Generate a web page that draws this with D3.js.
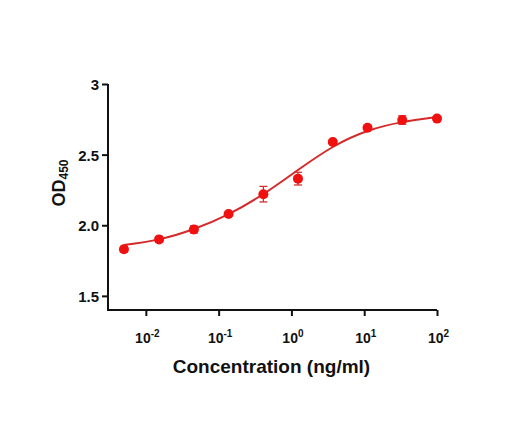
<!DOCTYPE html>
<html>
<head>
<meta charset="utf-8">
<script src="https://cdn.jsdelivr.net/npm/d3@7"></script>
<style>
  body { margin: 0; background: #fff; }
  svg text { font-family: "Liberation Sans", Arial, sans-serif; font-weight: bold; fill: #111; }
</style>
</head>
<body>
<svg id="chart" width="519" height="423"></svg>
<script>
// measured points (3-fold dilution series)
const conc = [0.005, 0.0152, 0.0457, 0.137, 0.412, 1.23, 3.70, 11.1, 33.3, 100];
const od = [1.83, 1.90, 1.97, 2.08, 2.22, 2.33, 2.59, 2.69, 2.745, 2.755];
const odErr = [0.02, 0.02, 0.025, 0.01, 0.055, 0.045, 0.01, 0.01, 0.03, 0.01];

// fitted curve
const fitConc = [0.005, 0.0152, 0.0457, 0.137, 0.412, 1.23, 3.70, 11.1, 33.3, 100];
const fitOD = [1.86, 1.90, 1.973, 2.079, 2.221, 2.391, 2.554, 2.667, 2.730, 2.766];

const xTicks = [-2, -1, 0, 1, 2];
const yTicks = [1.5, 2.0, 2.5, 3];
const yTickLabels = ['1.5', '2.0', '2.5', '3'];

const svg = d3.select('#chart');
const margin = { top: 84, bottom: 113, left: 108, right: 82 };
const width = 519 - margin.left - margin.right;
const height = 423 - margin.top - margin.bottom;

const x = d3.scaleLog()
  .domain([Math.pow(10, -2.52), 100])
  .range([0, width]);

const y = d3.scaleLinear()
  .domain([1.4, 3])
  .range([height, 0]);

const g = svg.append('g')
  .attr('transform', `translate(${margin.left}, ${margin.top})`);

// axes
const xAxis = d3.axisBottom(x)
  .tickValues(xTicks.map(d => Math.pow(10, d)))
  .tickSize(6)
  .tickFormat('');
const xg = g.append('g')
  .attr('transform', `translate(0, ${height})`)
  .call(xAxis);

const yAxis = d3.axisLeft(y)
  .tickValues(yTicks)
  .tickSize(6)
  .tickFormat('');
const yg = g.append('g').call(yAxis);

// y axis line only spans from top tick down to x axis
yg.select('.domain').remove();
xg.select('.domain').remove();
g.append('path')
  .attr('d', `M0,${y(3)}V${height}H${width}`)
  .attr('fill', 'none')
  .attr('stroke', '#111')
  .attr('stroke-width', 2);

g.selectAll('.tick line').attr('stroke', '#111').attr('stroke-width', 2);

// x tick labels as 10^n
xg.selectAll('.tick')
  .append('text')
  .attr('x', 1)
  .attr('y', 33)
  .attr('text-anchor', 'middle')
  .style('font-size', '14px')
  .each(function(d) {
    const t = d3.select(this);
    const p = Math.round(Math.log10(d));
    t.append('tspan').text('10');
    t.append('tspan')
      .attr('dy', '-0.6em')
      .style('font-size', '10px')
      .text(p);
  });

yg.selectAll('.tick')
  .append('text')
  .attr('x', -9)
  .attr('dy', '0.36em')
  .attr('text-anchor', 'end')
  .style('font-size', '15px')
  .text((d, i) => yTickLabels[i]);

// axis titles
g.append('text')
  .attr('x', width / 2 - 1)
  .attr('y', height + 63)
  .attr('text-anchor', 'middle')
  .style('font-size', '19px')
  .text('Concentration (ng/ml)');

const yTitle = g.append('text')
  .attr('transform', `translate(-43, ${183 - margin.top}) rotate(-90)`)
  .attr('text-anchor', 'middle')
  .style('font-size', '18px');
yTitle.append('tspan').text('OD');
yTitle.append('tspan').style('font-size', '12px').attr('dy', '0.25em').text('450');

// fitted curve
const line = d3.line()
  .x((d, i) => x(fitConc[i]))
  .y(d => y(d))
  .curve(d3.curveNatural);

g.append('path')
  .datum(fitOD)
  .attr('d', line)
  .attr('fill', 'none')
  .attr('stroke', '#d42a2a')
  .attr('stroke-width', 2);

// error bars
const points = conc.map((c, i) => ({ c: c, v: od[i], e: odErr[i] }));

const bars = g.append('g')
  .selectAll('g')
  .data(points)
  .join('g')
  .attr('stroke', '#d43030')
  .attr('stroke-width', 1.3);

bars.append('line')
  .attr('x1', d => x(d.c)).attr('x2', d => x(d.c))
  .attr('y1', d => y(d.v + d.e)).attr('y2', d => y(d.v - d.e));
bars.append('line')
  .attr('x1', d => x(d.c) - 4).attr('x2', d => x(d.c) + 4)
  .attr('y1', d => y(d.v + d.e)).attr('y2', d => y(d.v + d.e));
bars.append('line')
  .attr('x1', d => x(d.c) - 4).attr('x2', d => x(d.c) + 4)
  .attr('y1', d => y(d.v - d.e)).attr('y2', d => y(d.v - d.e));

g.append('g')
  .selectAll('circle')
  .data(points)
  .join('circle')
  .attr('cx', d => x(d.c))
  .attr('cy', d => y(d.v))
  .attr('r', 5)
  .attr('fill', '#f01010');
</script>
</body>
</html>
